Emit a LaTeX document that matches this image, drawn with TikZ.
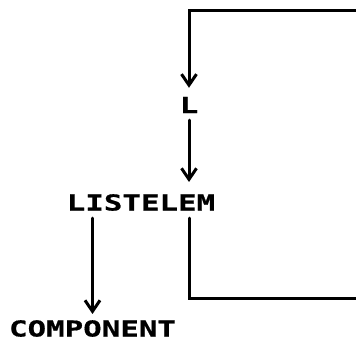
\documentclass[tikz,border=0pt]{standalone}
\usepackage{fontspec}
\usetikzlibrary{arrows.meta}
% wide plotter-style lettering
\newfontfamily\plotfont[FakeStretch=1.4,FakeBold=0.6]{DejaVu Sans Mono Bold}
\begin{document}
\begin{tikzpicture}[x=1pt,y=-1pt,
  label/.style={font=\plotfont\fontsize{22pt}{24pt}\selectfont, inner sep=0pt, anchor=center},
  wire/.style={line width=3pt, line cap=round, line join=miter},
  arr/.style={wire, -{Straight Barb[length=11pt,width=15pt,line width=3pt]}}]
  \useasboundingbox (0,0) rectangle (356,341);

  \node[label] (L) at (189,105) {L};
  \node[label] (listelem) at (141,202.5) {LISTELEM};
  \node[label] (component) at (92.5,328.5) {COMPONENT};

  \coordinate (topright) at (358,10);
  \coordinate (botright) at (358,298);

  % loop back into L
  \draw[arr, shorten >=9pt] (topright) -| (L.north);
  % L to LISTELEM
  \draw[arr, shorten <=7pt, shorten >=12pt] (L.south) -- (listelem.north -| L.south);
  % LISTELEM to COMPONENT
  \draw[arr, shorten <=7pt, shorten >=6pt] (listelem.south -| component.north) -- (component.north);
  % LISTELEM out to the right
  \draw[wire, shorten <=7pt] (listelem.south -| L.south) |- (botright);
\end{tikzpicture}
\end{document}
